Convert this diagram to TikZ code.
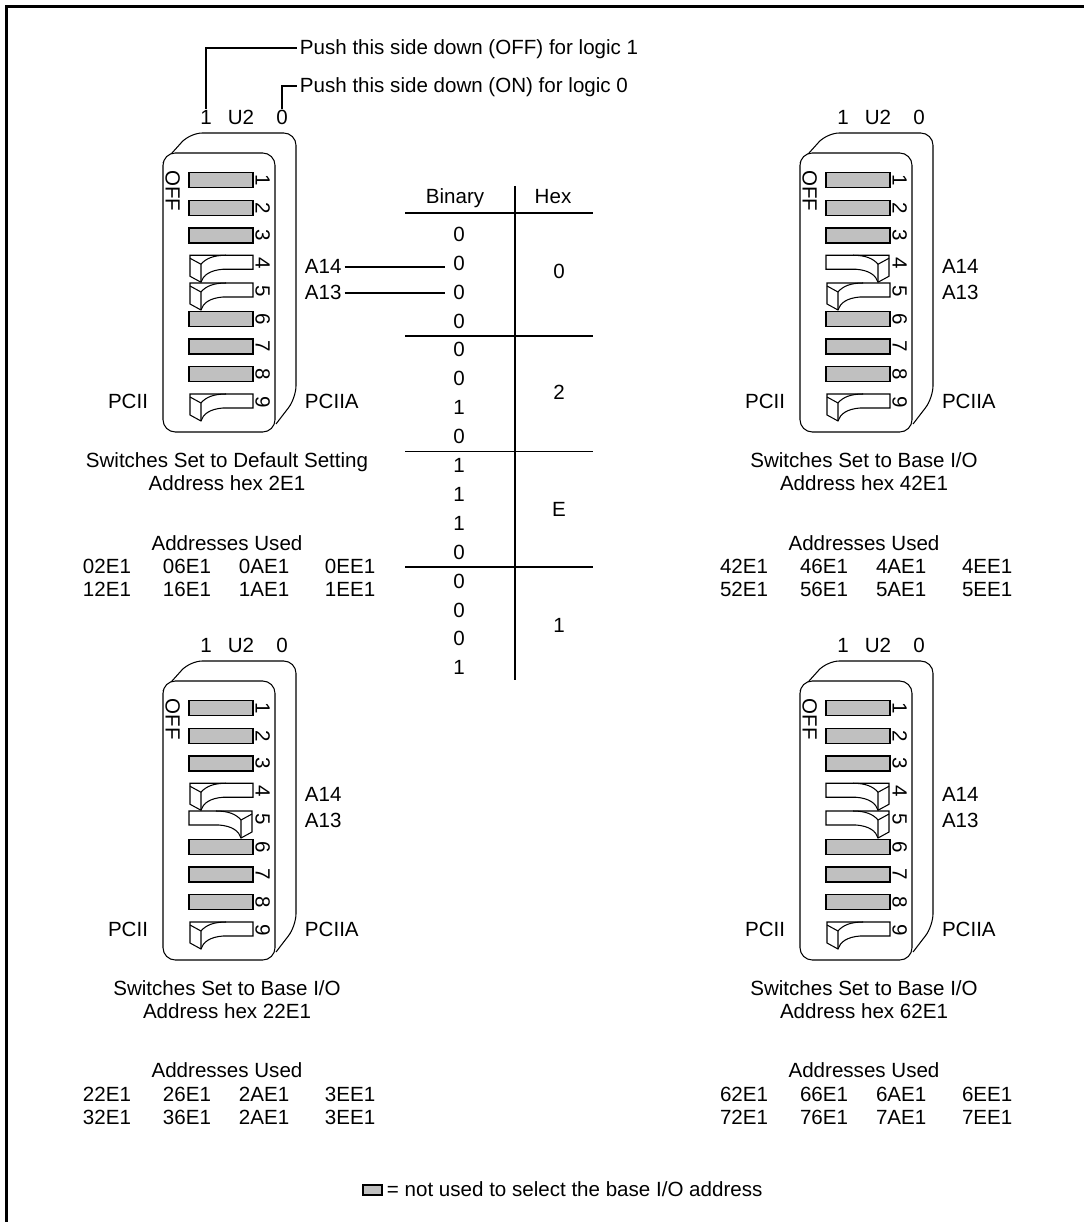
\documentclass[tikz,border=0pt]{standalone}
\usepackage{fontspec}
\setmainfont{Liberation Sans}
\definecolor{swgray}{RGB}{192,192,192}

\tikzset{
  txt/.style={font=\fontsize{11.7}{14}\selectfont, inner sep=1.5pt,
    text height=0.72em, text depth=0pt},
  body/.style={line width=0.6pt},
  rocker/.style={draw, line width=0.6pt, fill=swgray},
  flat/.style={line width=0.6pt},
  rule/.style={line width=0.6pt},
}

% rocker pushed down on the left / on the right, #1 = centre y
\newcommand\swL[1]{%
  \draw[flat, fill=white] (190,#1-8) -- (253,#1-8) -- (253,#1+6) -- (223,#1+6)
    .. controls (210,#1+7) and (203,#1+12) .. (201,#1+19) -- (190,#1+13) -- cycle;
  \draw[flat] (190,#1-5) -- (201,#1+1) -- (201,#1+19);
  \draw[flat] (201,#1+1) .. controls (206,#1-5) and (214,#1-8) .. (226,#1-8);
}
\newcommand\swR[1]{%
  \draw[flat, fill=white] (252,#1-8) -- (189,#1-8) -- (189,#1+6) -- (219,#1+6)
    .. controls (232,#1+7) and (239,#1+12) .. (241,#1+19) -- (252,#1+13) -- cycle;
  \draw[flat] (252,#1-5) -- (241,#1+1) -- (241,#1+19);
  \draw[flat] (241,#1+1) .. controls (236,#1-5) and (228,#1-8) .. (216,#1-8);
}

\begin{document}
\begin{tikzpicture}[x=0.02cm, y=-0.02cm]
\useasboundingbox (0,0) rectangle (1084,1222);
\draw[line width=1.4pt] (6.5,1222) -- (6.5,6.5) -- (1084,6.5);

% the four switch blocks
\foreach \px/\py/\pa/\pb/\pn in {0/0/L/L/a, 637/0/R/L/b, 0/528/L/R/c, 637/528/R/R/d} {
  \begin{scope}[shift={(\px,\py)}]
    \draw[body, rounded corners=7pt] (163,163) -- (190,133) -- (296,133)
      -- (296,398) -- (276,424);
    \draw[body, fill=white, rounded corners=7pt] (163,300) -- (163,432)
      -- (275,432) -- (275,153) -- (163,153) -- cycle;
    \foreach \i in {1,2,3,6,7,8}
      \draw[rocker] (189,{180+27.75*(\i-1)-7.5}) rectangle ++(64,15);
    \csname sw\pa\endcsname{263.25}
    \csname sw\pb\endcsname{291}
    \swL{402}
    \foreach \i in {1,...,9}
      \node[txt, rotate=-90] (num\pn\i) at (262,{180+27.75*(\i-1)}) {\i};
    \node[txt, rotate=-90] (off\pn) at (172,191) {OFF};
    \node[txt] (one\pn) at (206,118) {1};
    \node[txt] (utwo\pn) at (241,118) {U2};
    \node[txt] (zero\pn) at (282,118) {0};
    \node[txt, anchor=west] (afour\pn) at (302,267) {A14};
    \node[txt, anchor=west] (athree\pn) at (302,293) {A13};
    \node[txt, anchor=east] (pcii\pn) at (151,402) {PCII};
    \node[txt, anchor=west] (pciia\pn) at (302,402) {PCIIA};
  \end{scope}
}

% top notes
\node[txt, anchor=west] (pushoff) at (297,48) {Push this side down (OFF) for logic 1};
\node[txt, anchor=west] (pushon) at (297,86) {Push this side down (ON) for logic 0};
\draw[rule] (onea.north) |- (pushoff.west);
\draw[rule] (zeroa.north) |- (pushon.west);

% captions
\node[txt] (capa) at (227,461) {Switches Set to Default Setting};
\node[txt] (hexa) at (227,484) {Address hex 2E1};
\node[txt] (useda) at (227,544) {Addresses Used};
\foreach \x/\t [count=\k] in {80/02E1,160/06E1,236/0AE1,322/0EE1}
  \node[txt, anchor=west] (adra\k) at (\x,567) {\t};
\foreach \x/\t [count=\k] in {80/12E1,160/16E1,236/1AE1,322/1EE1}
  \node[txt, anchor=west] (adrb\k) at (\x,590) {\t};

\node[txt] (capb) at (864,461) {Switches Set to Base I/O};
\node[txt] (hexb) at (864,484) {Address hex 42E1};
\node[txt] (usedb) at (864,544) {Addresses Used};
\foreach \x/\t [count=\k] in {717/42E1,797/46E1,873/4AE1,959/4EE1}
  \node[txt, anchor=west] (adrc\k) at (\x,567) {\t};
\foreach \x/\t [count=\k] in {717/52E1,797/56E1,873/5AE1,959/5EE1}
  \node[txt, anchor=west] (adrd\k) at (\x,590) {\t};

\node[txt] (capc) at (227,989) {Switches Set to Base I/O};
\node[txt] (hexc) at (227,1012) {Address hex 22E1};
\node[txt] (usedc) at (227,1071) {Addresses Used};
\foreach \x/\t [count=\k] in {80/22E1,160/26E1,236/2AE1,322/3EE1}
  \node[txt, anchor=west] (adre\k) at (\x,1095) {\t};
\foreach \x/\t [count=\k] in {80/32E1,160/36E1,236/2AE1,322/3EE1}
  \node[txt, anchor=west] (adrf\k) at (\x,1118) {\t};

\node[txt] (capd) at (864,989) {Switches Set to Base I/O};
\node[txt] (hexd) at (864,1012) {Address hex 62E1};
\node[txt] (usedd) at (864,1071) {Addresses Used};
\foreach \x/\t [count=\k] in {717/62E1,797/66E1,873/6AE1,959/6EE1}
  \node[txt, anchor=west] (adrg\k) at (\x,1095) {\t};
\foreach \x/\t [count=\k] in {717/72E1,797/76E1,873/7AE1,959/7EE1}
  \node[txt, anchor=west] (adrh\k) at (\x,1118) {\t};

% binary / hex table
\node[txt] (binhd) at (455,197) {Binary};
\node[txt] (hexhd) at (553,197) {Hex};
\draw[rule] (515,186) -- (515,680);
\draw[rule] (405,213) -- (593,213);
\foreach \y in {336,451.5,567}
  \draw[rule] (405,\y) -- (593,\y);
\foreach \b [count=\k from 0] in {0,0,0,0,0,0,1,0,1,1,1,0,0,0,0,1}
  \node[txt] (bin\k) at (459,{235+28.9*\k}) {\b};
\node[txt] (hexzero) at (559,272) {0};
\node[txt] (hextwo) at (559,393) {2};
\node[txt] (hexe) at (559,510) {E};
\node[txt] (hexone) at (559,626) {1};
\draw[rule, shorten >=3pt] (afoura.east) -- (afoura.east -| bin1.west);
\draw[rule, shorten >=3pt] (athreea.east) -- (athreea.east -| bin2.west);

% legend
\draw[rocker] (363,1185) rectangle (382,1195);
\node[txt, anchor=west] (legend) at (384,1190) {= not used to select the base I/O address};
\end{tikzpicture}
\end{document}
